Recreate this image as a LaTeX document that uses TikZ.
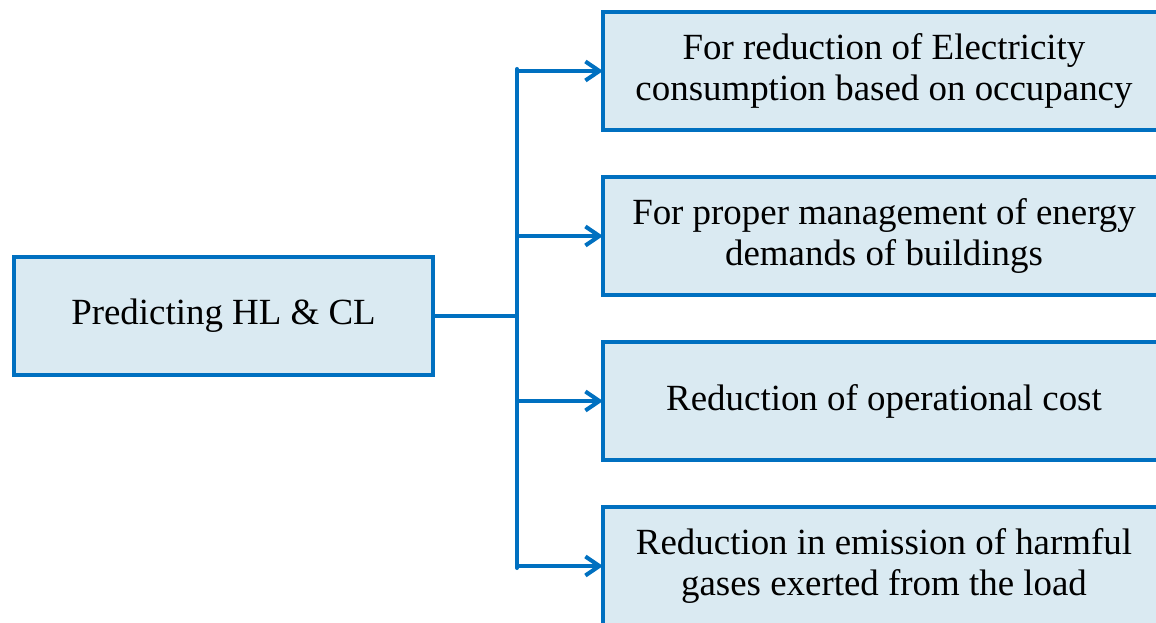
\documentclass[tikz,border=0pt]{standalone}
\usepackage{fontspec}
\setmainfont{Liberation Serif}
\usepackage{tikz}
\usetikzlibrary{positioning,arrows.meta}
\definecolor{boxblue}{RGB}{0,112,192}
\definecolor{boxfill}{RGB}{218,234,242}

\begin{document}
\begin{tikzpicture}[
  box/.style={draw=boxblue, fill=boxfill, line width=2.3pt, outer sep=0pt,
    minimum height=2.36cm, align=center, font=\fontsize{21}{23.5}\selectfont},
  goal/.style={box, minimum width=11.24cm},
  link/.style={draw=boxblue, line width=2.3pt},
  feed/.style={link, -{Straight Barb[length=2.8mm,width=3.8mm]}}
  ]
  \useasboundingbox (0,0) rectangle (23.12,12.44);
  \clip (0,0) rectangle (23.12,12.44);
  \node[box, minimum width=8.38cm] (pred) at (4.47,6.12) {Predicting HL \& CL};
  \node[goal] (elec) at (17.68,11.02) {For reduction of Electricity\\consumption based on occupancy};
  \node[goal, below=0.94cm of elec] (demand) {For proper management of energy\\demands of buildings};
  \node[goal, below=0.94cm of demand] (cost) {Reduction of operational cost};
  \node[goal, below=0.94cm of cost] (gases) {Reduction in emission of harmful\\gases exerted from the load};
  \coordinate (fork) at (10.34,6.12);
  \coordinate (forktop) at (fork |- elec.west);
  \coordinate (forkbot) at (fork |- gases.west);
  \draw[link] (pred) -- (fork);
  \draw[link, line cap=round] ([yshift=0.04cm]forktop) -- ([yshift=-0.04cm]forkbot);
  \path
  (forktop) edge[feed] (elec)
  (fork |- demand.west) edge[feed] (demand)
  (fork |- cost.west) edge[feed] (cost)
  (forkbot) edge[feed] (gases);
\end{tikzpicture}
\end{document}
